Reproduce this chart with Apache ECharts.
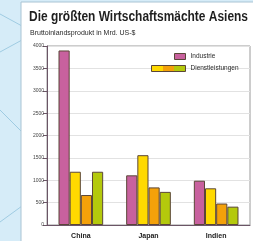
<!DOCTYPE html>
<html>
<head>
<meta charset="utf-8">
<script src="https://cdn.jsdelivr.net/npm/echarts@6/dist/echarts.min.js"></script>
<style>
  html, body { margin: 0; padding: 0; background: #d6ecf8; }
  #chart { width: 253px; height: 241px; }
</style>
</head>
<body>
<div id="chart"></div>
<script>
// values in Mrd. US-$
const countries = ['China', 'Japan', 'Indien']
const industrie = [3900, 1110, 990]
const dienstGelb = [1190, 1560, 820]
const dienstOrange = [670, 840, 480]
const dienstGruen = [1190, 740, 410]
const yTicks = { min: 0, max: 4000, interval: 500 }

const titleText = 'Die größten Wirtschaftsmächte Asiens'
const barBorder = { borderColor: '#5b4638', borderWidth: 1 }
const font = "'Liberation Sans', Arial, sans-serif"

// the original uses a condensed face, so squeeze the title to its width
const titleFont = 'bold 14px ' + font
const ctx = document.createElement('canvas').getContext('2d')
ctx.font = titleFont
const titleScale = Math.min(1, 219 / ctx.measureText(titleText).width)

const chart = echarts.init(document.getElementById('chart'), null, { renderer: 'canvas' })

function bar (name, data, color) {
  return {
    name,
    type: 'bar',
    data,
    barGap: 0,
    barCategoryGap: '34%',
    itemStyle: Object.assign({ color }, barBorder)
  }
}

const dienstSwatch = new echarts.graphic.LinearGradient(0, 0, 1, 0, [
  { offset: 0, color: '#ffd900' },
  { offset: 0.333, color: '#ffd900' },
  { offset: 0.334, color: '#f4a10a' },
  { offset: 0.666, color: '#f4a10a' },
  { offset: 0.667, color: '#b4c90c' },
  { offset: 1, color: '#b4c90c' }
])

chart.setOption({
  backgroundColor: '#d6ecf8',
  animation: false,
  graphic: [
    // decorative lines on the blue margin
    { type: 'line', shape: { x1: 0, y1: 52, x2: 22, y2: 40 }, style: { stroke: '#9fcbe2', lineWidth: 1 }, z: -10 },
    { type: 'line', shape: { x1: 0, y1: 110, x2: 22, y2: 132 }, style: { stroke: '#9fcbe2', lineWidth: 1 }, z: -10 },
    { type: 'line', shape: { x1: 0, y1: 222, x2: 22, y2: 206 }, style: { stroke: '#9fcbe2', lineWidth: 1 }, z: -10 },
    { type: 'line', shape: { x1: 0, y1: 14, x2: 22, y2: 26 }, style: { stroke: '#9fcbe2', lineWidth: 1 }, z: -10 },
    // white panel
    { type: 'rect', shape: { x: 21, y: 2, width: 240, height: 250 }, style: { fill: '#ffffff', stroke: '#a9c4d4', lineWidth: 1 }, z: -9 },
    {
      type: 'text',
      x: 29,
      y: 10,
      scaleX: titleScale,
      style: { text: titleText, font: titleFont, fill: '#1f1f1f' }
    },
    {
      type: 'text',
      x: 30,
      y: 30,
      style: { text: 'Bruttoinlandsprodukt in Mrd. US-$', font: '7px ' + font, fill: '#2a2a2a' }
    }
  ],
  legend: [
    {
      data: ['Industrie'],
      left: 174,
      top: 53,
      padding: 0,
      icon: 'rect',
      itemWidth: 11,
      itemHeight: 6,
      itemStyle: barBorder,
      textStyle: { fontFamily: font, fontSize: 6.5, color: '#2a2a2a' }
    },
    {
      data: [{ name: 'Dienstleistungen', itemStyle: { color: dienstSwatch } }],
      left: 151,
      top: 65,
      padding: 0,
      icon: 'rect',
      itemWidth: 34,
      itemHeight: 6,
      itemStyle: barBorder,
      textStyle: { fontFamily: font, fontSize: 6.5, color: '#2a2a2a' }
    }
  ],
  grid: {
    left: 47,
    right: 3,
    top: 46,
    bottom: 16,
    show: true,
    borderColor: '#9a9a9a',
    borderWidth: 1
  },
  xAxis: {
    type: 'category',
    data: countries,
    axisLine: { lineStyle: { color: '#6b5566', width: 1 } },
    axisTick: { show: false },
    axisLabel: { fontFamily: font, fontSize: 7, fontWeight: 'bold', color: '#222', margin: 8 }
  },
  yAxis: {
    type: 'value',
    min: yTicks.min,
    max: yTicks.max,
    interval: yTicks.interval,
    axisLine: { show: true, lineStyle: { color: '#6b5566', width: 1 } },
    axisTick: { show: true, length: 4, lineStyle: { color: '#6b5566' } },
    axisLabel: { fontFamily: font, fontSize: 5, color: '#444', margin: 3, formatter: v => String(v) },
    splitLine: { lineStyle: { color: '#e2e2e2' } }
  },
  series: [
    bar('Industrie', industrie, '#c8619e'),
    bar('Dienstleistungen', dienstGelb, '#ffd900'),
    bar('Dienstleistungen Handel', dienstOrange, '#f4a10a'),
    bar('Dienstleistungen Sonstige', dienstGruen, '#b4c90c')
  ]
})
</script>
</body>
</html>
